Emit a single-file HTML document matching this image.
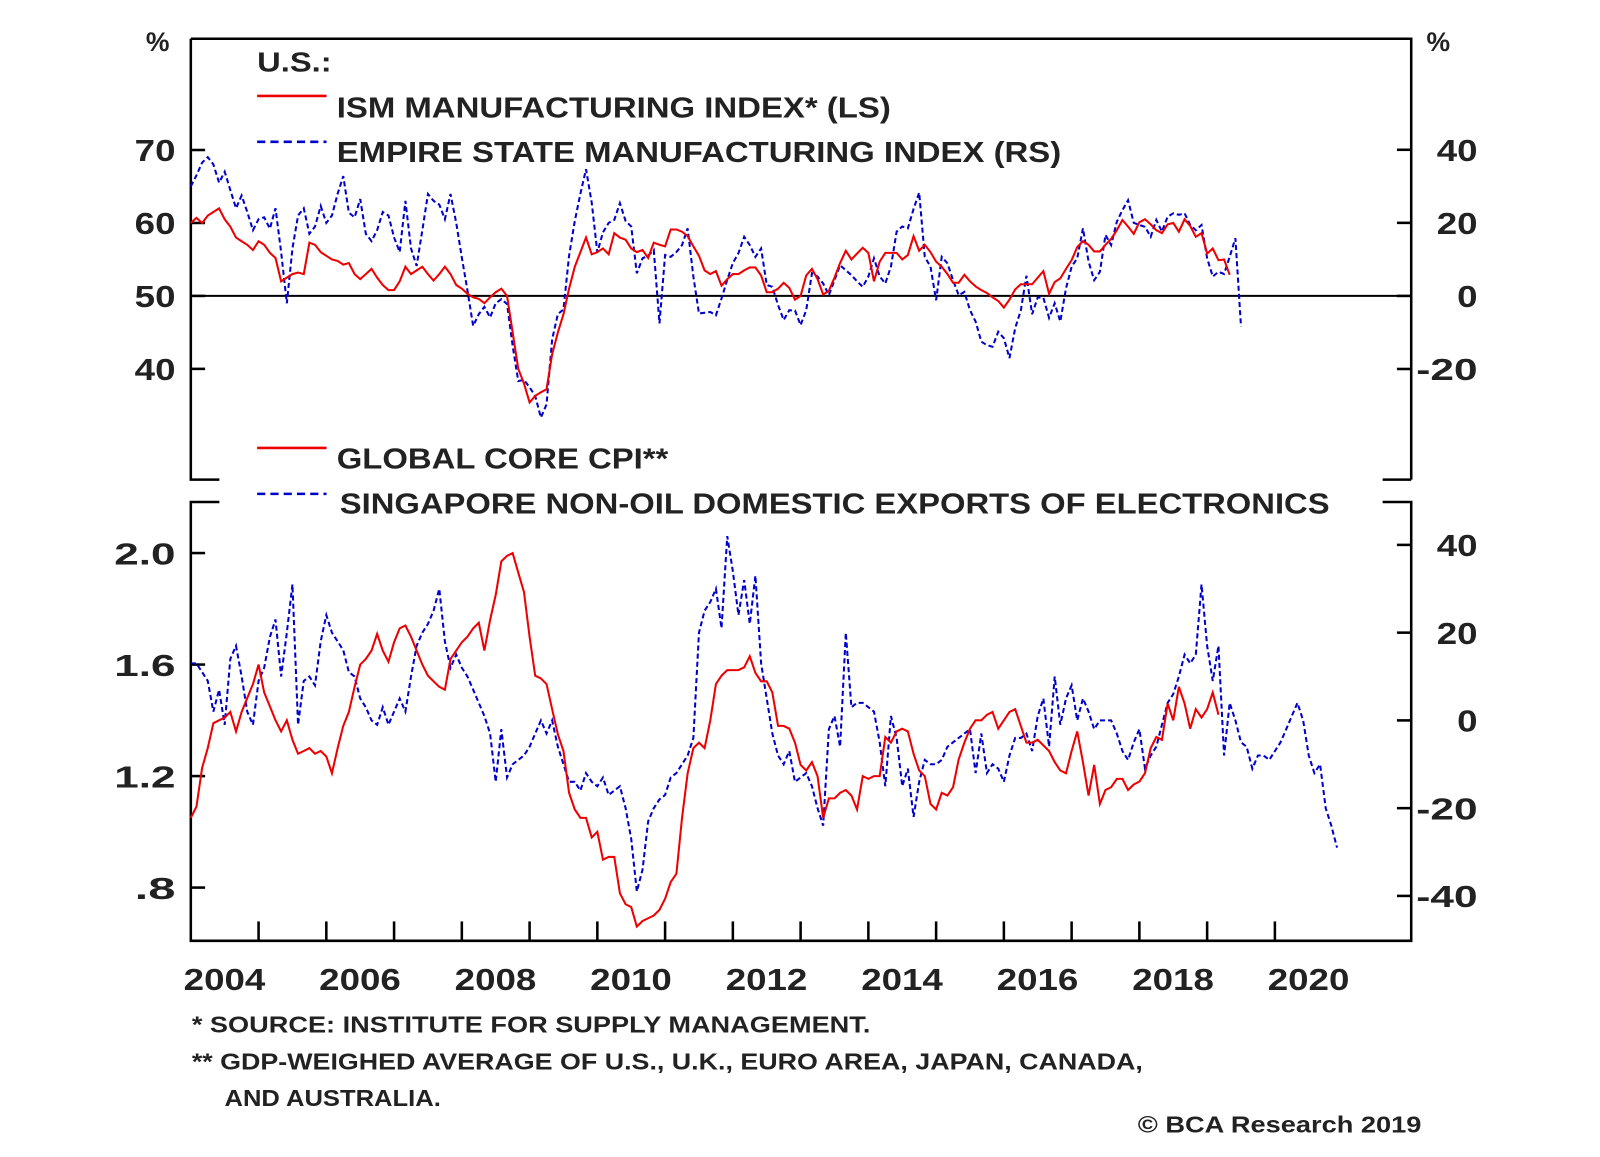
<!DOCTYPE html>
<html><head><meta charset="utf-8"><style>
body{margin:0;background:#fff}
svg text{font-family:"Liberation Sans",sans-serif;font-weight:bold;fill:#222}
</style></head><body>
<svg id="c" width="1600" height="1152" viewBox="0 0 1600 1152" xmlns="http://www.w3.org/2000/svg">
<g transform="scale(1.0204)">
<g id="frame" stroke="#000" stroke-width="2.5" fill="none">
<path d="M187,38 H1383 V470 M187,38 V470 H215 M1355,470 H1383"/>
<path d="M215,492 H187 V922 H1383 V492 H1355"/>
<line x1="187" y1="290" x2="1383" y2="290" stroke-width="2"/>
</g>
<g id="axes"></g>
<g id="series"></g>
<g>
<text x="252" y="70" font-size="27" textLength="73" lengthAdjust="spacingAndGlyphs">U.S.:</text>
<line x1="252" y1="94" x2="320" y2="94" stroke="#e00" stroke-width="2.5"/>
<text x="330" y="115" font-size="28" textLength="543" lengthAdjust="spacingAndGlyphs">ISM MANUFACTURING INDEX* (LS)</text>
<line x1="252" y1="139" x2="320" y2="139" stroke="#00c" stroke-width="2.5" stroke-dasharray="8,5"/>
<text x="330" y="159" font-size="28" textLength="710" lengthAdjust="spacingAndGlyphs">EMPIRE STATE MANUFACTURING INDEX (RS)</text>
</g>
<g>
<line x1="252" y1="439" x2="320" y2="439" stroke="#e00" stroke-width="2.5"/>
<text x="330" y="459" font-size="28" textLength="325" lengthAdjust="spacingAndGlyphs">GLOBAL CORE CPI**</text>
<line x1="252" y1="484" x2="320" y2="484" stroke="#00c" stroke-width="2.5" stroke-dasharray="8,5"/>
<text x="333" y="503" font-size="28" textLength="970" lengthAdjust="spacingAndGlyphs">SINGAPORE NON-OIL DOMESTIC EXPORTS OF ELECTRONICS</text>
</g>
<text x="143" y="50" font-size="26">%</text>
<text x="1398" y="50" font-size="26">%</text>
<g>
<text x="188" y="1012" font-size="23" textLength="665" lengthAdjust="spacingAndGlyphs">*  SOURCE: INSTITUTE FOR SUPPLY MANAGEMENT.</text>
<text x="188" y="1048" font-size="23" textLength="932" lengthAdjust="spacingAndGlyphs">** GDP-WEIGHED AVERAGE OF U.S., U.K., EURO AREA, JAPAN, CANADA,</text>
<text x="220" y="1084" font-size="23" textLength="212" lengthAdjust="spacingAndGlyphs">AND AUSTRALIA.</text>
<text x="1115" y="1110" font-size="23" textLength="278" lengthAdjust="spacingAndGlyphs">© BCA Research 2019</text>
</g>
</g>
</svg>
<script>
const years=[2004,2006,2008,2010,2012,2014,2016,2018,2020];
const topLeftTicks=[70,60,50,40];
const topRightTicks=[40,20,0,-20];
const botLeftTicks=[2.0,1.6,1.2,0.8];
const botLeftLabels=["2.0","1.6","1.2",".8"];
const botRightTicks=[40,20,0,-20,-40];
const ism=[60,60.7,60,61,61.5,62,60.5,59.5,58,57.5,57,56.3,57.5,57,55.9,55.2,52,52.5,53,53.2,53,57.3,57,56,55.5,55,54.8,54.3,54.5,53,52.3,53,53.7,52.5,51.5,50.8,50.8,52,54,53,53.5,54,53,52.1,53,54,53,51.5,51,50.3,49.8,49.6,49,49.8,50.5,51,50,45,40,38,35.4,36.3,36.8,37.2,42,45,47.5,51,54,56,58,55.7,56,56.5,55.7,58.6,58,57.7,56.5,56,56.3,55.2,57.3,57,56.8,59.1,59.1,58.8,58.2,56.8,55.5,53.5,53,53.4,51.4,52.3,53,53,53.5,53.9,53.9,52.8,50.5,50.5,51,51.8,51.1,49.5,50,52.8,53.7,52.3,50.2,50.7,52.5,54.5,56.2,55,55.8,56.6,55.9,52,54.7,55.9,55.9,55.9,55,55.6,58.2,56.2,57,56,54.7,54,53,51.8,51.8,52.9,52,51.3,50.8,50.4,49.8,49.3,48.4,49.5,50.9,51.6,51.6,51.6,52.5,53.4,50.3,51.9,52.4,53.7,54.9,56.7,57.5,57,56.1,56.1,57,57.8,59,60.4,59.5,58.5,60.1,60.5,59.8,59,58.6,59.8,60,58.8,60.5,59.6,58.1,58.6,55.8,56.5,54.9,55,52.9];
const empire=[30,33,36.5,38,36,31,34,29,24,27.5,23,18,21,21.5,18.4,24,12,-2,13,22,24,17,19,24.6,20,22,28,32.8,22.8,21.5,26.5,17,15,18,23,22,16,12,26,13,8.2,18,27.9,26,25,21,27.9,20,10.5,1.5,-8.2,-5,-3,-5.9,-2,-0.9,-2.2,-13.7,-23.3,-23,-25,-27.4,-33.3,-29.7,-11.9,-5,-3.7,11,20.5,28,34.7,25.5,11.9,17.4,20,20.8,25.4,20.5,19,6.2,10.3,11,12.6,-7.5,11.2,10.7,12,13.9,18.5,5.3,-4.8,-4.6,-4.4,-5.3,-0.7,4.4,9,11.7,16.2,13.9,10.7,13,3,2.5,-2.5,-6.6,-3.9,-4,-8,-3.9,6.2,5.3,3.4,0.2,4.3,8.4,7,5.7,4,2.5,5.3,10.3,5.3,3.4,8,17.6,19,18.5,23.8,28.3,10.7,8,-1.2,10.7,8.9,4.3,0.2,1.1,-3.9,-7,-12.5,-13.5,-13.9,-9.8,-11.6,-17,-8.8,-4,5.5,-5,-0.4,-0.5,-6,-2,-7,2.1,8,10.3,18.5,9.4,4.3,6.6,16.7,13.9,20.3,23.5,26.2,20,19.4,18.9,16.2,20.8,17.6,21.7,22.6,22.2,22.6,19.4,18,19.4,10.3,5.3,6.6,6,10.7,15.8,-8.4];
const cpi=[1.05,1.09,1.23,1.30,1.39,1.40,1.41,1.43,1.36,1.43,1.48,1.53,1.60,1.50,1.45,1.40,1.36,1.40,1.33,1.28,1.29,1.30,1.28,1.29,1.27,1.21,1.30,1.38,1.43,1.52,1.60,1.62,1.65,1.71,1.65,1.61,1.68,1.73,1.74,1.70,1.65,1.60,1.56,1.54,1.52,1.51,1.62,1.65,1.68,1.70,1.73,1.75,1.65,1.76,1.85,1.97,1.99,2.0,1.93,1.86,1.70,1.56,1.55,1.53,1.44,1.35,1.29,1.14,1.08,1.05,1.05,0.98,1.00,0.90,0.91,0.91,0.78,0.74,0.73,0.66,0.68,0.69,0.70,0.72,0.76,0.82,0.85,1.05,1.21,1.30,1.32,1.30,1.40,1.53,1.56,1.58,1.58,1.58,1.59,1.63,1.57,1.54,1.54,1.50,1.38,1.38,1.37,1.32,1.24,1.22,1.25,1.20,1.05,1.12,1.12,1.14,1.15,1.13,1.08,1.20,1.19,1.20,1.20,1.34,1.32,1.36,1.37,1.36,1.28,1.22,1.20,1.10,1.08,1.14,1.13,1.16,1.26,1.32,1.37,1.40,1.40,1.42,1.43,1.37,1.40,1.43,1.44,1.38,1.32,1.32,1.33,1.31,1.29,1.25,1.22,1.21,1.29,1.36,1.25,1.13,1.24,1.10,1.15,1.16,1.19,1.19,1.15,1.17,1.18,1.21,1.30,1.34,1.33,1.46,1.40,1.52,1.46,1.37,1.44,1.41,1.44,1.50,1.42];
const singapore=[13,13,11,9,2,7,-1,14,17,10,2,-1,9,12,19,23,10,20,31,-1,9,10,8,18,24,20,18,16,11,10,5,3,0,-1,3,-1,2,5,2,10,17,20,22,25,30,18,12,15,12,10,7,4,1,-3,-14,-2,-13,-10,-9,-8,-6,-3,0,-3,0,-6,-10,-14,-14,-16,-12,-14,-15,-13,-17,-16,-15,-20,-27,-39,-34,-23,-20,-18,-17,-13,-12,-10,-8,-4,20,25,27,30,21,42,34,24,32,22,33,13,5,-3,-8,-10,-7,-14,-13,-12,-15,-20,-24,-2,1,-6,20,3,4,4,3,2,-5,-15,1,-4,-15,-11,-22,-14,-9,-10,-10,-9,-6,-5,-4,-3,-2,-12,-3,-12,-10,-11,-14,-8,-4,-4,-3,-7,1,5,-6,10,-1,5,8,0,5,2,-2,0,0,0,-3,-7,-9,-5,-2,-11,-8,-6,-1,4,6,10,15,13,15,31,17,9,17,-8,4,0,-5,-6,-11,-8,-8,-9,-7,-5,-2,1,4,0,-8,-12,-10,-20,-24,-29];
const X=t=>187+(t-2004)*66.4;
const yTL=v=>290-(v-50)*7.15;
const yTR=v=>290-v*3.58;
const yB=v=>542+(2.0-v)*273.2;
const yBR=v=>706-v*4.3;
const NS="http://www.w3.org/2000/svg";
const ax=document.getElementById('axes'),se=document.getElementById('series');
function mk(tag,attrs,parent){const e=document.createElementNS(NS,tag);for(const k in attrs)e.setAttribute(k,attrs[k]);parent.appendChild(e);return e;}
years.forEach(y=>{const t=mk('text',{x:X(y)-7,y:970,'font-size':30,textLength:80,lengthAdjust:'spacingAndGlyphs'},ax);t.textContent=y;

});
for(let y=2005;y<=2020;y++){const l=mk('line',{x1:X(y),x2:X(y),y1:922,y2:903,stroke:'#000','stroke-width':2.5},ax);

}
function yt(vals,labels,f,side){vals.forEach((v,i)=>{const y=f(v);
const l=mk('line',{x1:side?1369:187,x2:side?1383:201,y1:y,y2:y,stroke:'#000','stroke-width':2.5},ax);


const s=String(labels[i]);const w=s.length*20;
const t=mk('text',{x:(side?1448:172)-w,y:y+11,'font-size':30,textLength:w,lengthAdjust:'spacingAndGlyphs'},ax);t.textContent=s;

});}
yt(topLeftTicks,topLeftTicks,yTL,0);
yt(topRightTicks,topRightTicks,yTR,1);
yt(botLeftTicks,botLeftLabels,yB,0);
yt(botRightTicks,botRightTicks,yBR,1);
function line(data,t0,f,color,dash,name){const d=data.map((v,i)=>(i?'L':'M')+X(t0+i/12).toFixed(1)+','+f(v).toFixed(1)).join('');
const p=mk('path',{d:d,fill:'none',stroke:color,'stroke-width':2,'stroke-dasharray':dash},se);

}
line(empire,2004.0,yTR,'#00c','5,3','empire-state-line');
line(ism,2004.0,yTL,'#e00','none','ism-line');
line(singapore,2004.0,yBR,'#00c','5,3','singapore-exports-line');
line(cpi,2004.0,yB,'#e00','none','global-core-cpi-line');
</script>
</body></html>
